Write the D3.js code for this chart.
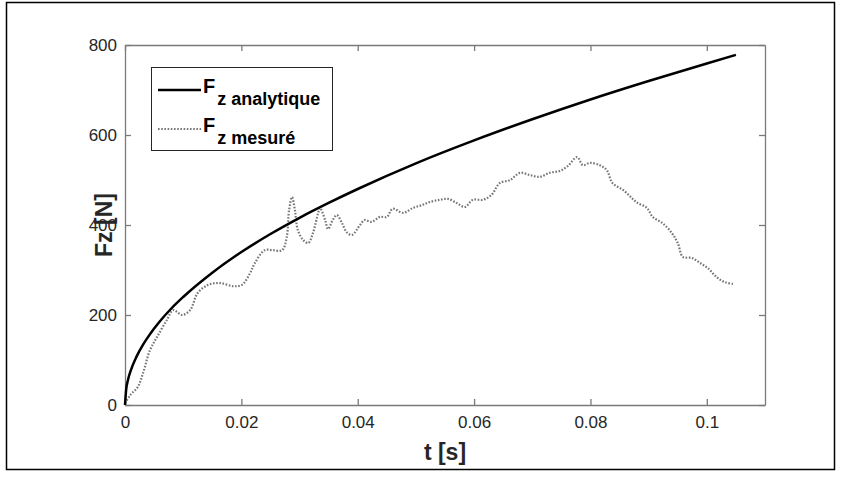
<!DOCTYPE html>
<html>
<head>
<meta charset="utf-8">
<script src="https://cdn.jsdelivr.net/npm/d3@7"></script>
<style>
	body { margin: 0; background: #fff; }
	text { font-family: "Liberation Sans", Arial, Helvetica, sans-serif; fill: #262626; }
	.axis-label { font-size: 23px; font-weight: bold; }
	.legend-text { font-weight: bold; fill: #000; }
</style>
</head>
<body>
<div class="box"></div>
<script>
// analytic force (s, N)
var tAnalytic = [0, 0.0002, 0.0005, 0.001, 0.002, 0.003, 0.004, 0.006, 0.008, 0.01, 0.015, 0.02,
	0.025, 0.03, 0.035, 0.04, 0.05, 0.06, 0.07, 0.08, 0.09, 0.1, 0.105];
var fAnalytic = [0, 34, 55, 77, 108, 132, 152, 186, 215, 240, 294, 340,
	380, 416, 449, 480, 537, 588, 635, 679, 720, 759, 778];

var tMeasured = [0, 0.0009, 0.0022, 0.0031, 0.0043, 0.0055, 0.0072, 0.0083, 0.0098, 0.0112, 0.0125,
	0.0143, 0.0163, 0.0186, 0.0201, 0.0215, 0.0223, 0.024, 0.0254, 0.027, 0.0278, 0.0282, 0.0287,
	0.0292, 0.0297, 0.0306, 0.0315, 0.0323, 0.0332, 0.0335, 0.0344, 0.0349, 0.0357, 0.0364, 0.0373,
	0.0381, 0.039, 0.0404, 0.0412, 0.0424, 0.0438, 0.045, 0.046, 0.0478, 0.0495, 0.051, 0.0524,
	0.0541, 0.0555, 0.057, 0.0584, 0.0598, 0.0615, 0.063, 0.0644, 0.0662, 0.0679, 0.0696, 0.0713,
	0.073, 0.0747, 0.0761, 0.0777, 0.0787, 0.0799, 0.0816, 0.0828, 0.0838, 0.0856, 0.0871, 0.0881,
	0.0897, 0.0907, 0.0924, 0.094, 0.095, 0.0959, 0.0974, 0.0988, 0.1002, 0.1017, 0.1031, 0.1045];
var fMeasured = [4, 22, 40, 71, 122, 151, 189, 211, 200, 211, 249,
	267, 271, 264, 267, 293, 315, 344, 344, 344, 373, 433, 462,
	433, 389, 367, 360, 382, 427, 438, 411, 391, 411, 422, 404,
	384, 378, 400, 411, 407, 418, 418, 436, 427, 438, 444, 451,
	456, 458, 449, 440, 456, 456, 467, 493, 500, 516, 511, 507,
	516, 520, 531, 551, 533, 538, 533, 522, 493, 478, 460, 449,
	438, 418, 404, 382, 360, 329, 327, 316, 304, 284, 273, 269];

var xTicks = [0, 0.02, 0.04, 0.06, 0.08, 0.1];
var yTicks = [0, 200, 400, 600, 800];
var seriesNames = ['analytique', 'mesuré'];

function drawChart()
{
	var width = 842, height = 477;
	var left = 125, right = 765, top = 45, bottom = 405;
	var axisColor = '#7a7a7a';

	var svg = d3.select('.box')
		.append('svg')
		.attr('width', width)
		.attr('height', height);

	// figure frame
	svg.append('rect')
		.attr('x', 6.5)
		.attr('y', 2.5)
		.attr('width', 828)
		.attr('height', 467)
		.style('fill', 'none')
		.style('stroke', '#000')
		.style('stroke-width', 1.5);

	var x = d3.scaleLinear().domain([0, 0.11]).range([left, right]);
	var y = d3.scaleLinear().domain([0, 800]).range([bottom, top]);

	var fmtX = function(d) { return d === 0 ? '0' : String(+d.toFixed(2)); };

	var gx = svg.append('g')
		.attr('transform', 'translate(0,' + bottom + ')')
		.call(d3.axisBottom(x).tickValues(xTicks).tickFormat(fmtX).tickSizeInner(-6).tickSizeOuter(0).tickPadding(11));
	var gxTop = svg.append('g')
		.attr('transform', 'translate(0,' + top + ')')
		.call(d3.axisTop(x).tickValues(xTicks).tickFormat('').tickSizeInner(-6).tickSizeOuter(0));
	var gy = svg.append('g')
		.attr('transform', 'translate(' + left + ',0)')
		.call(d3.axisLeft(y).tickValues(yTicks).tickSizeInner(-6).tickSizeOuter(0).tickPadding(8));
	var gyRight = svg.append('g')
		.attr('transform', 'translate(' + right + ',0)')
		.call(d3.axisRight(y).tickValues(yTicks).tickFormat('').tickSizeInner(-6).tickSizeOuter(0));

	[gx, gxTop, gy, gyRight].forEach(function(g) {
		g.select('.domain').style('stroke', axisColor).style('stroke-width', 1.3);
		g.selectAll('.tick line').style('stroke', axisColor).style('stroke-width', 1.3);
		g.selectAll('.tick text')
			.style('font-family', '"Liberation Sans", Arial, sans-serif')
			.style('font-size', '17px')
			.style('fill', '#262626');
	});

	var measured = tMeasured.map(function(t, i) { return [t, fMeasured[i]]; });
	var analytic = tAnalytic.map(function(t, i) { return [t, fAnalytic[i]]; });

	var line = d3.line()
		.x(function(d) { return x(d[0]); })
		.y(function(d) { return y(d[1]); })
		.curve(d3.curveCatmullRom);

	svg.append('path')
		.datum(measured)
		.attr('d', line)
		.style('fill', 'none')
		.style('stroke', '#777')
		.style('stroke-width', 2.2)
		.style('stroke-dasharray', '1.6,1.6');

	svg.append('path')
		.datum(analytic)
		.attr('d', line.curve(d3.curveMonotoneX))
		.style('fill', 'none')
		.style('stroke', '#000')
		.style('stroke-width', 2.5);

	// axis labels
	svg.append('text')
		.attr('class', 'axis-label')
		.attr('x', (left + right) / 2)
		.attr('y', 460)
		.attr('text-anchor', 'middle')
		.text('t [s]');

	svg.append('text')
		.attr('class', 'axis-label')
		.attr('transform', 'translate(112,' + ((top + bottom) / 2) + ') rotate(-90)')
		.attr('text-anchor', 'middle')
		.text('Fz [N]');

	// legend
	var lg = svg.append('g');
	lg.append('rect')
		.attr('x', 151.5)
		.attr('y', 67.5)
		.attr('width', 181)
		.attr('height', 83)
		.style('fill', '#fff')
		.style('stroke', '#262626')
		.style('stroke-width', 1);

	var rows = [
		{name: seriesNames[0], y: 93, stroke: '#000', width: 2.5, dash: null},
		{name: seriesNames[1], y: 132, stroke: '#777', width: 2.2, dash: '1.6,1.6'}
	];

	rows.forEach(function(r) {
		lg.append('line')
			.attr('x1', 158)
			.attr('x2', 201)
			.attr('y1', r.y - 3)
			.attr('y2', r.y - 3)
			.style('stroke', r.stroke)
			.style('stroke-width', r.width)
			.style('stroke-dasharray', r.dash);

		var t = lg.append('text')
			.attr('class', 'legend-text')
			.attr('x', 203)
			.attr('y', r.y);
		t.append('tspan')
			.style('font-size', '20px')
			.text('F');
		t.append('tspan')
			.attr('dy', 12)
			.attr('dx', 2)
			.style('font-size', '18px')
			.text('z ' + r.name);
	});
}

drawChart();
</script>
</body>
</html>
